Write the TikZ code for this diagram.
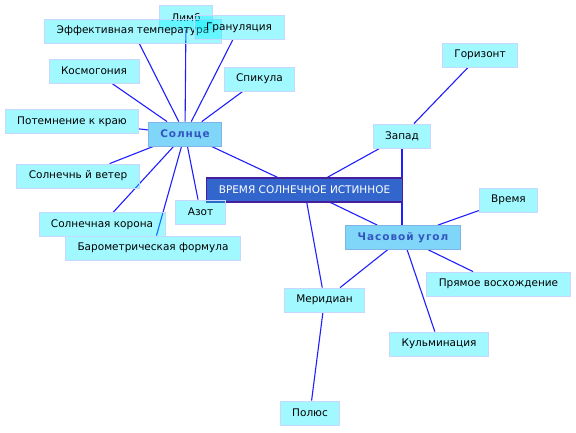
\documentclass[tikz,border=0pt]{standalone}
\usepackage{fontspec}
\setmainfont{DejaVu Sans}
\newfontfamily\hubfont[LetterSpace=9]{DejaVu Sans}
\usepackage{xcolor}
\usepackage{tikz}
\usetikzlibrary{backgrounds}
\definecolor{leafcyan}{RGB}{0,240,255}
\definecolor{leafedge}{RGB}{200,215,255}
\definecolor{hubfill}{RGB}{128,214,248}
\definecolor{hubedge}{RGB}{128,180,232}
\definecolor{hubtext}{RGB}{50,85,190}
\definecolor{rootfill}{RGB}{51,102,204}
\definecolor{rootedge}{RGB}{70,30,160}
\definecolor{linkblue}{RGB}{30,30,255}

\begin{document}
\begin{tikzpicture}[
    x=1pt, y=-1pt,
    leaf/.style={draw=leafedge, line width=0.8pt, fill=leafcyan, fill opacity=0.37, text opacity=1,
                 font=\fontsize{10.5}{12}\selectfont, inner xsep=12pt, minimum height=24pt},
    hub/.style={draw=hubedge, line width=0.8pt, fill=hubfill, text=hubtext,
                font=\hubfont\bfseries\fontsize{10.5}{12}\selectfont, inner xsep=12pt, minimum height=24pt},
    root/.style={draw=rootedge, line width=1.3pt, fill=rootfill, text=white,
                 font=\fontsize{10.5}{12}\selectfont, inner xsep=12pt, minimum height=24pt},
    link/.style={linkblue, line width=1.1pt}
]
\useasboundingbox (0,0) rectangle (576,432);

% Centre
\node[root] (vremya) at (304.5,190) {ВРЕМЯ СОЛНЕЧНОЕ ИСТИННОЕ};

% Hubs
\node[hub] (solnce) at (185,134) {Солнце};
\node[hub] (chasugol) at (403,237.5) {Часовой угол};

% Sun branch
\node[leaf] (limb) at (186,17) {Лимб};
\node[leaf] (effektemp) at (133,31) {Эффективная температура};
\node[leaf] (granul) at (239,27.5) {Грануляция};
\node[leaf] (kosmogon) at (94,71) {Космогония};
\node[leaf] (spikula) at (259.5,79) {Спикула};
\node[leaf] (potemn) at (72,121.5) {Потемнение к краю};
\node[leaf] (veter) at (78,176) {Солнечнь й ветер};
\node[leaf] (azot) at (200.5,212) {Азот};
\node[leaf] (korona) at (102,224.5) {Солнечная корона};
\node[leaf] (barom) at (153,248) {Барометрическая формула};

% Right branch
\node[leaf] (zapad) at (402,136) {Запад};
\node[leaf] (gorizont) at (480,55) {Горизонт};
\node[leaf] (vremyaleaf) at (508.5,200) {Время};
\node[leaf] (pryamoe) at (498.5,284) {Прямое восхождение};
\node[leaf] (kulmin) at (439,344) {Кульминация};
\node[leaf] (meridian) at (324.5,300) {Меридиан};
\node[leaf] (polyus) at (310,413) {Полюс};

% Links
\begin{scope}[on background layer]
\foreach \n in {limb,effektemp,granul,kosmogon,spikula,potemn,veter,azot,korona,barom,vremya}
    \draw[link] (solnce) -- (\n);
\draw[link] (vremya) -- (zapad);
\draw[link] (vremya) -- (chasugol);
\draw[link] (vremya) -- (meridian);
\draw[link] (zapad) -- (gorizont);
\draw[link] (zapad.south) -- (zapad.south |- chasugol.north);
\foreach \n in {vremyaleaf,pryamoe,kulmin,meridian}
    \draw[link] (chasugol) -- (\n);
\draw[link] (meridian) -- (polyus);
\end{scope}

\end{tikzpicture}
\end{document}
